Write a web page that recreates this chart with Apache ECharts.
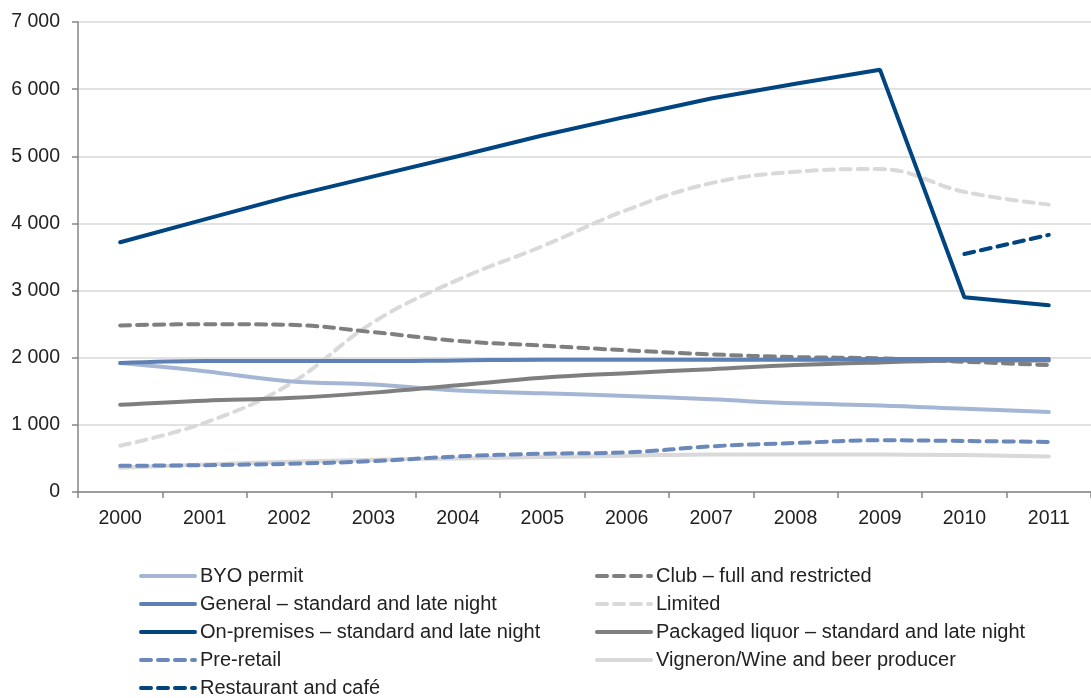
<!DOCTYPE html>
<html><head><meta charset="utf-8">
<script src="https://cdn.jsdelivr.net/npm/echarts@6/dist/echarts.min.js"></script>
<style>html,body{margin:0;padding:0;background:#fff}#c{width:1091px;height:698px}</style>
</head><body><div id="c"></div>
<script>
const years = ['2000','2001','2002','2003','2004','2005','2006','2007','2008','2009','2010','2011'];
const byoPermit = [1920,1800,1650,1600,1510,1470,1430,1380,1320,1290,1240,1190];
const general = [1920,1950,1950,1950,1960,1970,1970,1970,1970,1980,1980,1980];
const onPremises = [3720,4060,4400,4700,5000,5310,5590,5860,6080,6290,2900,2780];
const preRetail = [390,400,420,460,530,570,590,680,730,770,760,745];
const restaurant = [null,null,null,null,null,null,null,null,null,null,3545,3830];
const club = [2480,2500,2490,2380,2250,2180,2110,2050,2010,1990,1940,1890];
const limited = [690,1030,1600,2530,3160,3660,4200,4600,4770,4810,4470,4280];
const packaged = [1300,1360,1400,1480,1590,1700,1770,1830,1890,1930,1960,1960];
const vigneron = [360,410,450,480,500,520,540,560,560,560,550,530];
const yTicks = [0,1000,2000,3000,4000,5000,6000,7000];

const names = {
  byo:'BYO permit', gen:'General – standard and late night', onp:'On-premises – standard and late night',
  pre:'Pre-retail', rest:'Restaurant and café', club:'Club – full and restricted', lim:'Limited',
  pack:'Packaged liquor – standard and late night', vig:'Vigneron/Wine and beer producer'
};
function s(name, data, color, type, smooth){
  return {name, type:'line', data, symbol:'none', showSymbol:false, smooth: smooth,
    connectNulls:false, itemStyle:{color}, legendIcon:'none',
    lineStyle:{color, width:4, type: type==='dash'?[10,7]:'solid', cap:'round'}};
}
const font = 'Liberation Sans, Arial, sans-serif';
const chart = echarts.init(document.getElementById('c'), null, {renderer:'canvas'});
const legendCommon = {orient:'vertical', top:560, height:200, width:500, itemWidth:54, itemHeight:14, itemGap:6,
  itemStyle:{opacity:0, borderWidth:0}, lineStyle:{width:4},
  textStyle:{fontSize:20, fontFamily:font, color:'#222', lineHeight:22}, selectedMode:false};
chart.setOption({
  animation:false,
  grid:{left:78, top:22, bottom:206, right:-11.4, containLabel:false},
  xAxis:{type:'category', data:years, boundaryGap:true,
    axisLine:{lineStyle:{color:'#868686', width:1.5}},
    axisTick:{show:true, length:6, lineStyle:{color:'#868686', width:1.5}},
    axisLabel:{fontSize:19.5, fontFamily:font, color:'#222', margin:17}},
  yAxis:{type:'value', min:0, max:7000, interval:1000,
    axisLine:{show:true, lineStyle:{color:'#868686', width:1.5}},
    axisTick:{show:true, length:6, lineStyle:{color:'#868686', width:1.5}},
    splitLine:{lineStyle:{color:'#d9d9d9', width:1.5}},
    axisLabel:{fontSize:19.5, fontFamily:font, color:'#222', margin:18,
      formatter:v=>yTicks.includes(v)?String(v).replace(/\B(?=(\d{3})+(?!\d))/g,' '):''}},
  legend:[
    Object.assign({}, legendCommon, {left:134, data:[names.byo,names.gen,names.onp,names.pre,names.rest]}),
    Object.assign({}, legendCommon, {left:590, data:[names.club,names.lim,names.pack,names.vig]})
  ],
  series:[
    s(names.vig, vigneron, '#d9d9d9','solid',0.4),
    s(names.lim, limited, '#d9d9d9','dash',0.4),
    s(names.pre, preRetail, '#6b88bb','dash',0.4),
    s(names.byo, byoPermit, '#a5b6d4','solid',0.4),
    s(names.pack, packaged, '#7f7f7f','solid',0.4),
    s(names.club, club, '#7f7f7f','dash',0.4),
    s(names.gen, general, '#5f80b5','solid',0.4),
    s(names.onp, onPremises, '#004480','solid',false),
    s(names.rest, restaurant, '#004480','dash',false)
  ]
});
</script></body></html>
